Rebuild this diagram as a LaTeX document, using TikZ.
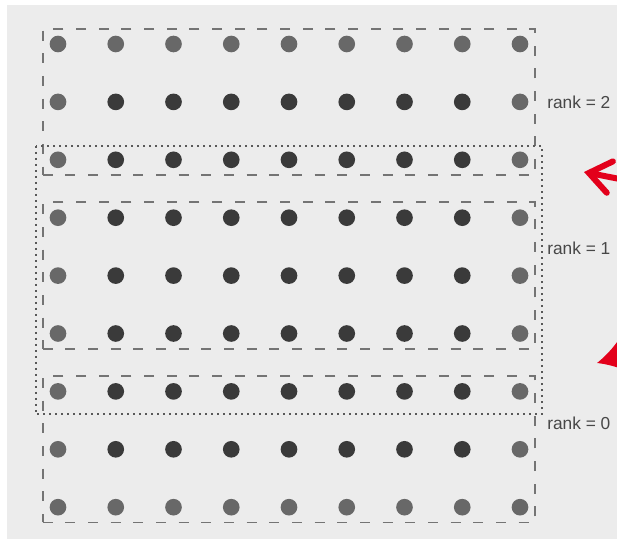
\documentclass[tikz,border=0pt]{standalone}
\usepackage{fontspec}
\setmainfont{Liberation Sans}
\usepackage{xcolor}
\usetikzlibrary{arrows.meta, positioning, calc, fit}

\definecolor{paper}{HTML}{ECECEC}
\definecolor{rimgray}{HTML}{686868}
\definecolor{coregray}{HTML}{3A3A3A}
\definecolor{linegray}{HTML}{747474}
\definecolor{markred}{HTML}{E3001B}

\tikzset{
  griddot/.style={circle, fill=coregray, minimum size=12.5pt, inner sep=0pt},
  rimdot/.style={circle, fill=rimgray, minimum size=12.5pt, inner sep=0pt},
  rankbox/.style={draw=linegray, line width=1.4pt, dash pattern=on 7.5pt off 9.5pt, inner sep=5pt},
  ghostbox/.style={draw=black!65, line width=1.6pt, dash pattern=on 1.4pt off 3.1pt},
  ranklabel/.style={anchor=west, inner sep=0pt, font=\fontsize{13pt}{15pt}\selectfont, text=black!72},
  redarrow/.style={draw=markred, line width=4.5pt, line cap=round}
}

\begin{document}
\begin{tikzpicture}[x=0.75pt, y=-0.75pt]
\useasboundingbox (0,0) rectangle (617,541);
\fill[white] (0,0) rectangle (617,541);
\fill[paper] (7,5) rectangle (617,539);

% grid of points
\foreach \i in {0,...,8}{
  \foreach \j in {0,...,8}{
    \pgfmathtruncatemacro{\rim}{(\i==0)||(\i==8)||(\j==0)||(\j==8)}
    \ifnum\rim=1 \def\dotstyle{rimdot}\else\def\dotstyle{griddot}\fi
    \node[\dotstyle] (d\i-\j) at ({58+57.75*\i},{44+57.9*\j}) {};
  }
}

% one box per rank
\node[rankbox, fit=(d0-0)(d8-2)] (box2) {};
\node[rankbox, fit=(d0-3)(d8-5)] (box1) {};
\node[rankbox, fit=(d0-6)(d8-8)] (box0) {};

% halo around rank 1
\draw[ghostbox] ($(d0-2)+(-22,-14)$) rectangle ($(d8-6)+(22,23)$);

\node[ranklabel] (lab2) at (547,102) {rank = 2};
\node[ranklabel] (lab1) at (547,248) {rank = 1};
\node[ranklabel] (lab0) at (547,423) {rank = 0};

% red marks
\coordinate (tail1) at (640,183);
\coordinate (tip1) at (584,172);
\draw[redarrow, -{Straight Barb[length=16pt, width=24pt, line cap=round]}] (tail1) -- (tip1);
\coordinate (tail2) at (660,345);
\coordinate (tip2) at (597,363);
\draw[redarrow, line width=3.5pt, -{Latex[length=24pt, width=32pt]}] (tail2) -- (tip2);
\end{tikzpicture}
\end{document}
